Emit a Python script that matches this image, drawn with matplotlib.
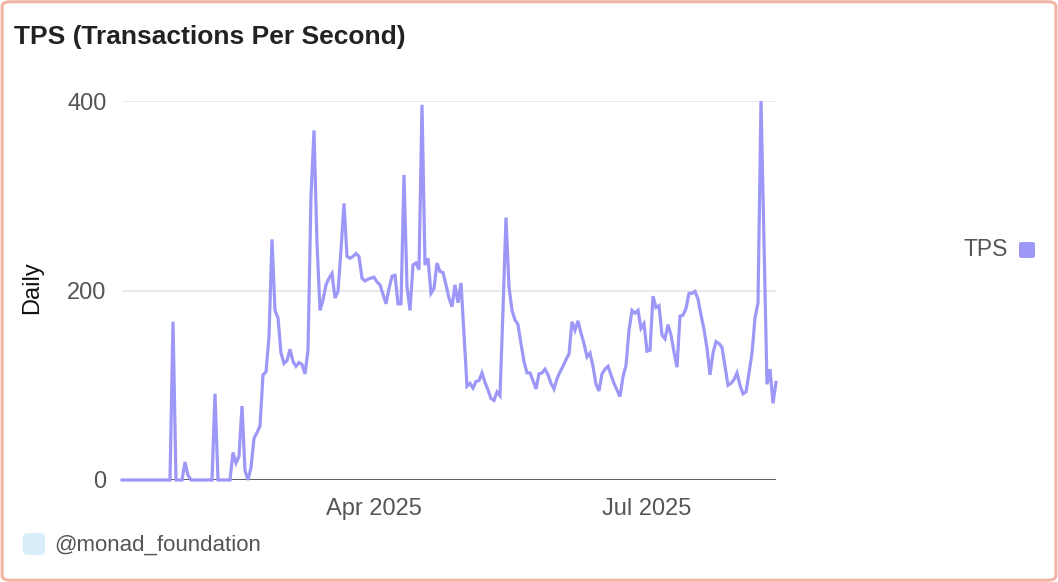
import numpy as np
import pandas as pd
import matplotlib
matplotlib.use("Agg")
import matplotlib.pyplot as plt
from matplotlib.patches import FancyBboxPatch

# daily TPS values, starting 2025-01-07
start_date = "2025-01-07"
tps = [
    0, 0, 0, 0, 0, 0, 0, 0, 0, 0,
    0, 0, 0, 0, 0, 0, 0, 167, 0, 0,
    0, 19, 5, 0, 0, 0, 0, 0, 0, 0,
    0, 91, 0, 0, 0, 0, 0, 29, 18, 25,
    78, 10, 0, 13, 44, 50, 57, 111, 114, 151,
    254, 179, 171, 134, 123, 126, 138, 125, 120, 124,
    122, 112, 137, 300, 369, 250, 179, 190, 206, 213,
    218, 192, 199, 243, 292, 236, 234, 236, 239, 236,
    213, 210, 212, 213, 214, 209, 206, 196, 186, 202,
    215, 216, 186, 186, 322, 204, 179, 227, 229, 222,
    396, 227, 234, 197, 202, 229, 220, 219, 206, 192,
    183, 206, 187, 208, 153, 99, 102, 97, 104, 105,
    113, 103, 95, 86, 84, 93, 89, 180, 277, 204,
    179, 169, 164, 144, 125, 113, 113, 105, 96, 112,
    113, 117, 111, 102, 96, 107, 114, 120, 127, 133,
    167, 158, 168, 155, 144, 130, 134, 120, 101, 94,
    112, 117, 120, 111, 102, 95, 88, 109, 121, 158,
    179, 176, 179, 160, 165, 136, 137, 194, 182, 184,
    153, 149, 164, 153, 135, 119, 173, 174, 181, 197,
    197, 199, 191, 174, 159, 139, 111, 134, 146, 144,
    140, 120, 100, 102, 106, 113, 100, 91, 93, 113,
    134, 171, 187, 400, 250, 101, 117, 81, 103,
]
dates = pd.date_range(start_date, periods=len(tps), freq="D")

y_ticks = [0, 200, 400]
x_ticks = ["2025-04-01", "2025-07-01"]
x_tick_labels = ["Apr 2025", "Jul 2025"]

line_color = "#9d97f7"
text_gray = "#555555"

plt.rcParams["font.family"] = ["Liberation Sans", "DejaVu Sans"]

fig = plt.figure(figsize=(10.58, 5.82), dpi=100, facecolor="white")

# outer rounded border
border = FancyBboxPatch((0.002, 0.003), 0.996, 0.994,
                        boxstyle="round,pad=0,rounding_size=0.008",
                        transform=fig.transFigure, facecolor="none",
                        edgecolor="#f2b5a5", linewidth=2.2, zorder=-1)
fig.patches.append(border)

ax = fig.add_axes([122 / 1058, 1 - 480 / 582, 654 / 1058, 379 / 582])
ax.set_facecolor("none")

ax.plot(dates, tps, color=line_color, linewidth=2.3, zorder=3, clip_on=False,
        solid_joinstyle="miter")
ax.axhline(0, color="#333333", linewidth=1.8, zorder=2)

ax.set_xlim(dates[0], dates[-1])
ax.set_ylim(0, 400)
ax.set_yticks(y_ticks)
ax.set_yticklabels([str(v) for v in y_ticks])
ax.set_xticks(pd.to_datetime(x_ticks))
ax.set_xticklabels(x_tick_labels)
ax.tick_params(axis="both", length=0, labelsize=17, labelcolor=text_gray)
ax.tick_params(axis="y", pad=11)
ax.tick_params(axis="x", pad=13)
ax.grid(axis="y", color="#e6e6e6", linewidth=1.2, zorder=1)
for s in ax.spines.values():
    s.set_visible(False)

fig.text(32 / 1058, 1 - 288 / 582, "Daily", fontsize=17, color="#111111",
         rotation=90, ha="center", va="center")

fig.text(14 / 1058, 1 - 37 / 582, "TPS (Transactions Per Second)",
         fontsize=19, fontweight="bold", color="#222222", va="center", ha="left")

# legend on the right
fig.text(1008 / 1058, 1 - 250 / 582, "TPS", fontsize=16.5, color=text_gray,
         va="center", ha="right")
leg_box = FancyBboxPatch((1019 / 1058, 1 - 258 / 582), 16 / 1058, 16 / 582,
                         boxstyle="round,pad=0,rounding_size=0.003",
                         transform=fig.transFigure, facecolor=line_color,
                         edgecolor="none")
fig.patches.append(leg_box)

# footer
foot_box = FancyBboxPatch((23 / 1058, 1 - 555 / 582), 22 / 1058, 22 / 582,
                          boxstyle="round,pad=0,rounding_size=0.006",
                          transform=fig.transFigure, facecolor="#daeefa",
                          edgecolor="none")
fig.patches.append(foot_box)
fig.text(54 / 1058, 1 - 545 / 582, "@monad_foundation", fontsize=16,
         color=text_gray, va="center", ha="left")

fig.savefig("out.png", dpi=100)
